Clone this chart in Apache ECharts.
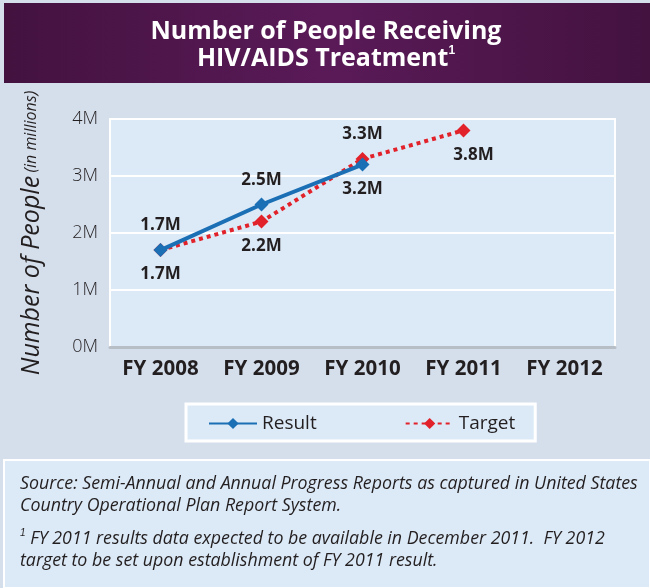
<!DOCTYPE html>
<html>
<head>
<meta charset="utf-8">
<script src="https://cdn.jsdelivr.net/npm/echarts@6/dist/echarts.min.js"></script>
<style>
  html, body { margin: 0; padding: 0; background: #ffffff; }
  #chart { width: 650px; height: 588px; }
</style>
</head>
<body>
<div id="chart"></div>
<script>
// Fiscal years on the x axis
const years = ['FY 2008', 'FY 2009', 'FY 2010', 'FY 2011', 'FY 2012'];
// People receiving treatment, in millions
const resultValues = [1.7, 2.5, 3.2, null, null];
const targetValues = [1.7, 2.2, 3.3, 3.8, null];
// Label placement for each point
const resultLabelPos = ['top', 'top', 'bottom', 'top', 'top'];
const targetLabelPos = ['bottom', 'bottom', 'top', 'bottom', 'bottom'];

const FONT = '"Open Sans", "Noto Sans", sans-serif';

const chart = echarts.init(document.getElementById('chart'));

function points(values, positions, offsets) {
  return values.map((v, i) => v === null ? null : {
    value: v,
    label: { position: positions[i], offset: offsets[i] || [0, 0] }
  });
}

const labelStyle = {
  show: true,
  formatter: p => p.value.toFixed(1) + 'M',
  fontFamily: FONT,
  fontWeight: 'bold',
  fontSize: 17,
  color: '#231f20',
  distance: 9
};

chart.setOption({
  backgroundColor: '#ffffff',
  graphic: [
    { type: 'rect', shape: { x: 0, y: 0, width: 650, height: 588 }, style: { fill: '#d5dfec' }, z: -10 },
    {
      type: 'rect', shape: { x: 4, y: 3, width: 646, height: 80 },
      style: {
        fill: new echarts.graphic.LinearGradient(0, 0, 1, 0, [
          { offset: 0, color: '#43123f' },
          { offset: 0.5, color: '#5a1a58' },
          { offset: 1, color: '#43123f' }
        ])
      }, z: -9
    },
    {
      type: 'text', x: 326, y: 18,
      style: {
        text: 'Number of People Receiving\nHIV/AIDS Treatment{sup|1}',
        fontFamily: FONT, fontWeight: 'bold', fontSize: 25, lineHeight: 27,
        fill: '#ffffff', align: 'center',
        rich: { sup: { fontSize: 12, fontWeight: 'bold', fill: '#ffffff', verticalAlign: 'top', padding: [0, 0, 10, 0] } }
      }
    },
    {
      type: 'rect', shape: { x: 4, y: 460, width: 646, height: 128 },
      style: { fill: '#dce9f6', stroke: '#ffffff', lineWidth: 2 }, z: -9
    },
    {
      type: 'text', left: 20, top: 473,
      style: {
        text: 'Source: Semi-Annual and Annual Progress Reports as captured in United States\nCountry Operational Plan Report System.',
        fontFamily: FONT, fontStyle: 'italic', fontSize: 17.8, lineHeight: 22, fill: '#231f20'
      }
    },
    {
      type: 'text', left: 20, top: 528,
      style: {
        text: '{s|1} FY 2011 results data expected to be available in December 2011.  FY 2012\ntarget to be set upon establishment of FY 2011 result.',
        fontFamily: FONT, fontStyle: 'italic', fontSize: 17.8, lineHeight: 22, fill: '#231f20',
        rich: { s: { fontSize: 10, fontStyle: 'italic', fill: '#231f20', verticalAlign: 'top', padding: [0, 0, 8, 0] } }
      }
    }
  ],
  grid: {
    left: 110, right: 35, top: 119, bottom: 241,
    show: true, backgroundColor: '#dceaf7', borderColor: '#ffffff', borderWidth: 2
  },
  legend: {
    left: 186, top: 404, width: 352, height: 38,
    itemWidth: 48, itemHeight: 14, itemGap: 88,
    padding: [10, 20, 8, 22],
    backgroundColor: '#dceaf7', borderColor: '#ffffff', borderWidth: 3,
    textStyle: { fontFamily: FONT, fontSize: 19, color: '#231f20' },
    data: ['Result', 'Target']
  },
  xAxis: {
    type: 'category',
    data: years,
    boundaryGap: true,
    axisLine: { lineStyle: { color: '#b8bec6', width: 3 } },
    axisTick: { inside: true, length: 5, lineStyle: { color: '#231f20', width: 1.5 } },
    axisLabel: { fontFamily: FONT, fontWeight: 'bold', fontSize: 20.5, color: '#231f20', margin: 12 }
  },
  yAxis: {
    type: 'value',
    min: 0, max: 4, interval: 1,
    name: '{a|Number of People} {b|(in millions)}',
    nameLocation: 'middle', nameRotate: 90, nameGap: 66,
    nameTextStyle: {
      rich: {
        a: { fontFamily: FONT, fontStyle: 'italic', fontSize: 25, color: '#231f20' },
        b: { fontFamily: FONT, fontStyle: 'italic', fontSize: 16, color: '#231f20' }
      }
    },
    axisLine: { show: false },
    axisTick: { show: false },
    splitLine: { lineStyle: { color: '#ffffff', width: 2 } },
    axisLabel: {
      formatter: v => v + 'M',
      fontFamily: FONT, fontWeight: 300, fontSize: 18, color: '#231f20', margin: 12
    }
  },
  series: [
    {
      name: 'Target', type: 'line',
      data: points(targetValues, targetLabelPos, [[0, 0], [0, 0], [0, 0], [10, 0]]),
      color: '#e2222a',
      lineStyle: { width: 4, type: [4, 4], color: '#e2222a' },
      symbol: 'diamond', symbolSize: 14,
      itemStyle: { color: '#e2222a' },
      label: labelStyle,
      z: 2
    },
    {
      name: 'Result', type: 'line',
      data: points(resultValues, resultLabelPos, []),
      color: '#1b6fb5',
      lineStyle: { width: 4, color: '#1b6fb5' },
      symbol: 'diamond', symbolSize: 14,
      itemStyle: { color: '#1b6fb5' },
      label: labelStyle,
      z: 3
    }
  ]
});
</script>
</body>
</html>
